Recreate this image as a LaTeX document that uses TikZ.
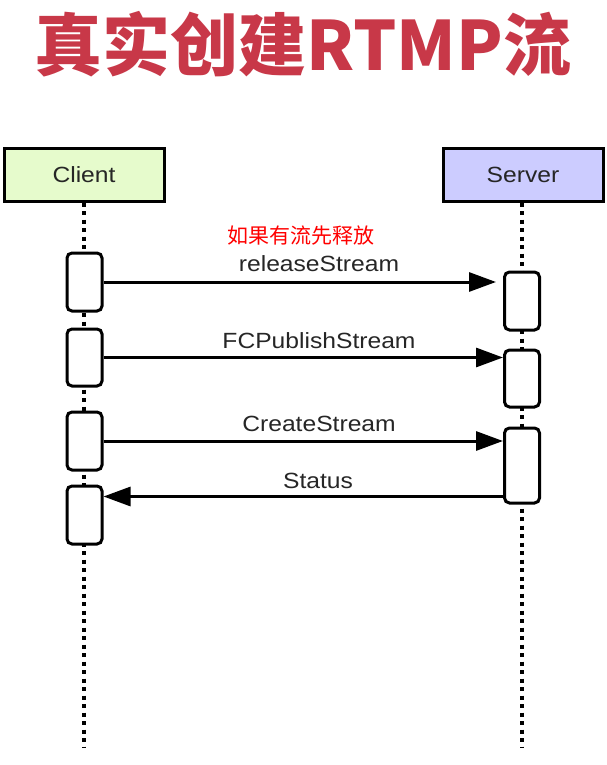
\documentclass[tikz,border=0pt]{standalone}
\usepackage{fontspec}
\setmainfont{Liberation Sans}
\newfontfamily\cjkfont{Noto Sans CJK SC}
\newfontfamily\lblfont[FakeStretch=1.12]{Liberation Sans}
\usepackage{tikz}
\usetikzlibrary{
    arrows.meta,
    positioning
}
\definecolor{titlered}{RGB}{200,56,72}
\definecolor{clientgreen}{RGB}{230,251,204}
\definecolor{serverblue}{RGB}{204,204,255}
\newcommand{\actbox}[3]{
    \node[act, minimum height=#3] (#1) at (#2) {};
}

\begin{document}
\begin{tikzpicture}[x=1pt, y=-1pt,
    party/.style={draw, line width=3pt, minimum width=160pt, minimum height=53pt,
        font=\lblfont\fontsize{22}{22}\selectfont, text=black!85},
    act/.style={draw, fill=white, line width=3pt, rounded corners=5pt, minimum width=35pt},
    life/.style={line width=3.5pt, dash pattern=on 4pt off 4.5pt},
    msg/.style={line width=3pt, -{Triangle[length=27pt, width=19pt]}},
    lbl/.style={font=\lblfont\fontsize{22}{22}\selectfont, text=black!85}]
    \useasboundingbox (0, 0) rectangle (607, 765);
    \node[font=\cjkfont\bfseries\fontsize{68}{68}\selectfont, text=titlered] (title) at (303, 44) {真实创建RTMP流};
    \node[party, fill=clientgreen] (client) at (84, 174.5) {Client};
    \node[party, fill=serverblue] (server) at (523, 174.5) {Server};
    \coordinate (cend) at (84, 748);
    \coordinate (send) at (522, 748);
    \draw[life] (client.south) -- (cend);
    \draw[life] (server.south -| send) -- (send);
    \actbox{c1}{84.5, 282}{58pt}
    \actbox{c2}{84.5, 357.5}{57pt}
    \actbox{c3}{84.5, 441}{58pt}
    \actbox{c4}{84.5, 515}{58pt}
    \actbox{s1}{522, 301}{58pt}
    \actbox{s2}{522, 378.5}{57pt}
    \actbox{s3}{522, 465.5}{75pt}
    \coordinate (r1) at (496, 282);
    \draw[msg] (c1.east) -- (r1);
    \draw[msg] (c2.east) -- (c2.east -| s2.west);
    \draw[msg] (c3.east) -- (c3.east -| s3.west);
    \draw[msg] ([yshift=8pt]s3.south west) -- ([yshift=8pt]s3.south west -| c4.east);
    \node[font=\cjkfont\fontsize{21}{21}\selectfont, text=red] (note) at (301, 236) {如果有流先释放};
    \node[lbl] (lrel) at (319, 264) {releaseStream};
    \node[lbl] (lfcp) at (319, 341) {FCPublishStream};
    \node[lbl] (lcre) at (319, 424) {CreateStream};
    \node[lbl] (lsta) at (318, 481) {Status};
\end{tikzpicture}
\end{document}
